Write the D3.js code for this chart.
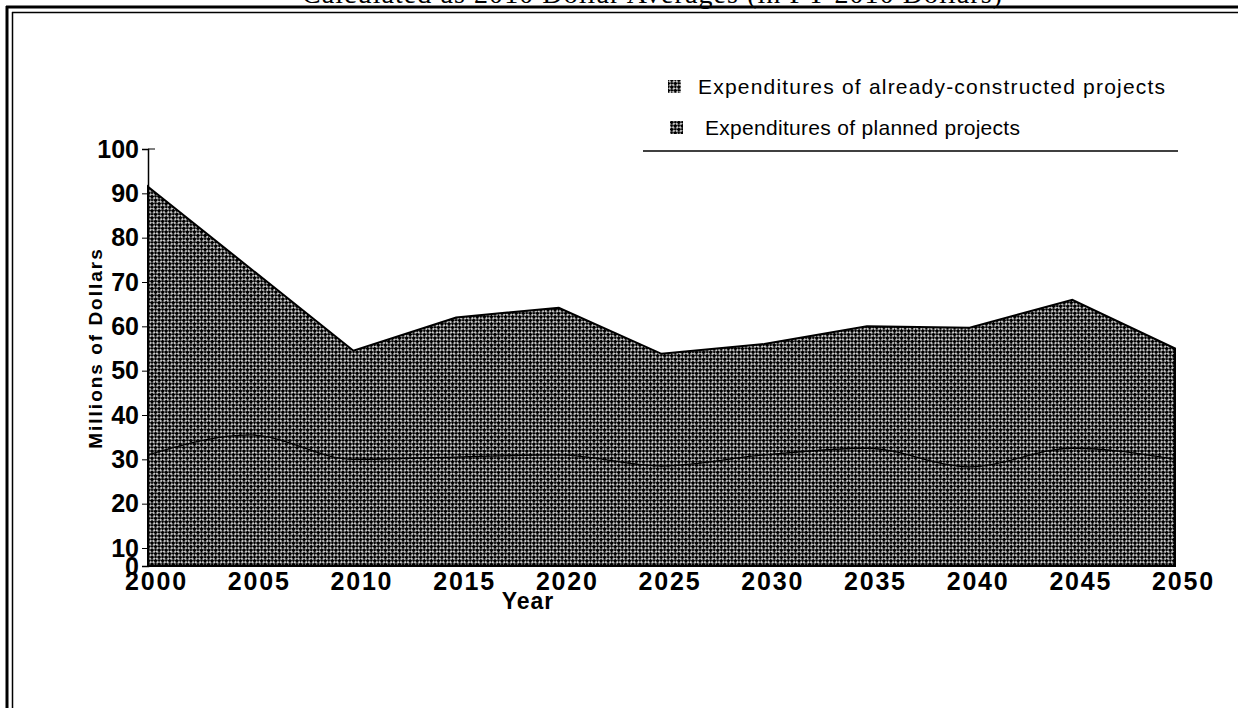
<!DOCTYPE html>
<html>
<head>
<meta charset="utf-8">
<script src="https://cdn.jsdelivr.net/npm/d3@7"></script>
<style>
  body { margin: 0; background: #fff; }
  svg { display: block; }
</style>
</head>
<body>
<div id="chart"></div>
<script>
// data
const years = [2000, 2005, 2010, 2015, 2020, 2025, 2030, 2035, 2040, 2045, 2050];
const constructed = [31, 35.5, 30, 30.5, 31, 28.5, 31, 32.5, 28.3, 32.5, 30];
const total = [91.5, 73, 54.5, 62, 64.2, 53.8, 56, 60, 59.7, 66, 55];
const yTicks = [0, 10, 20, 30, 40, 50, 60, 70, 80, 90, 100];
const legendLabels = ["Expenditures of already-constructed projects", "Expenditures of planned projects"];

const W = 1238, H = 708;
const sans = "Liberation Sans, Arial, sans-serif";
const svg = d3.select("#chart").append("svg").attr("width", W).attr("height", H);

// dark checker fill used by both areas
const defs = svg.append("defs");
const pat = defs.append("pattern").attr("id", "dots")
    .attr("width", 5).attr("height", 5)
    .attr("patternUnits", "userSpaceOnUse")
    .attr("patternTransform", "rotate(45)");
pat.append("rect").attr("width", 5).attr("height", 5).attr("fill", "#d0d0d0");
pat.append("rect").attr("width", 3.1).attr("height", 3.1).attr("fill", "#000");
pat.append("rect").attr("x", 2.5).attr("y", 2.5).attr("width", 3.1).attr("height", 3.1).attr("fill", "#000");

// page frame (double rule)
svg.append("line").attr("x1", 6).attr("x2", W).attr("y1", 7).attr("y2", 7).attr("stroke", "#000").attr("stroke-width", 3);
svg.append("line").attr("x1", 12).attr("x2", W).attr("y1", 12.5).attr("y2", 12.5).attr("stroke", "#000").attr("stroke-width", 1.5);
svg.append("line").attr("x1", 7).attr("x2", 7).attr("y1", 6).attr("y2", H).attr("stroke", "#000").attr("stroke-width", 3);
svg.append("line").attr("x1", 12.5).attr("x2", 12.5).attr("y1", 12).attr("y2", H).attr("stroke", "#000").attr("stroke-width", 1.5);

// title, mostly cut off at top of scan
svg.append("text").attr("x", 652).attr("y", 3)
    .attr("text-anchor", "middle")
    .attr("font-family", "Liberation Serif, Times New Roman, serif")
    .attr("font-size", 28)
    .attr("textLength", 700)
    .text("Calculated as 2010 Dollar Averages (in FY 2010 Dollars)");

const x = d3.scaleLinear().domain([2000, 2050]).range([148, 1175]);
// the scanned axis squeezes 0-10, so use a two-piece scale
const y = d3.scaleLinear().domain([0, 10, 100]).range([566, 548, 149]);

svg.append("path")
    .datum(total)
    .attr("d", d3.area().x((d, i) => x(years[i])).y0(y(0)).y1(d => y(d)))
    .attr("fill", "url(#dots)")
    .attr("stroke", "#000").attr("stroke-width", 2);

svg.append("path")
    .datum(constructed)
    .attr("d", d3.line().x((d, i) => x(years[i])).y(d => y(d)).curve(d3.curveMonotoneX))
    .attr("fill", "none")
    .attr("stroke", "#000").attr("stroke-width", 1.3);

// y axis
const yAxis = svg.append("g").attr("transform", `translate(${x(2000)},0)`)
    .call(d3.axisLeft(y).tickValues(yTicks).tickSize(6).tickPadding(3));
yAxis.select(".domain").attr("stroke-width", 1.5);
yAxis.selectAll("text")
    .attr("font-family", sans)
    .attr("font-weight", "bold").attr("font-size", 25).attr("fill", "#000");
yAxis.append("line").attr("x1", 0).attr("x2", 7).attr("y1", y(100)).attr("y2", y(100)).attr("stroke", "#000");

// x axis labels only (no visible base line); scan prints them a bit right of the data
const xAxis = svg.append("g").attr("transform", `translate(8,${y(0)})`)
    .call(d3.axisBottom(x).tickValues(years).tickFormat(d3.format("d")).tickSize(0).tickPadding(6));
xAxis.select(".domain").remove();
xAxis.selectAll("text")
    .attr("font-family", sans)
    .attr("font-weight", "bold").attr("font-size", 25)
    .attr("letter-spacing", 1.8).attr("fill", "#000");

svg.append("text").attr("x", 528).attr("y", 609)
    .attr("text-anchor", "middle")
    .attr("font-family", sans)
    .attr("font-weight", "bold").attr("font-size", 23)
    .attr("letter-spacing", 1)
    .text("Year");

svg.append("text")
    .attr("transform", "translate(102,348) rotate(-90)")
    .attr("text-anchor", "middle")
    .attr("font-family", sans)
    .attr("font-weight", "bold").attr("font-size", 19)
    .attr("letter-spacing", 2)
    .text("Millions of Dollars");

// legend
const legendLen = [467, 315];
const legend = svg.append("g");
legendLabels.forEach((lab, i) => {
  const ly = 87 + i * 41;
  legend.append("rect").attr("x", 668 + i * 2).attr("y", ly - 7).attr("width", 13).attr("height", 13)
      .attr("fill", "url(#dots)");
  legend.append("text").attr("x", 698 + i * 7).attr("y", ly + 7)
      .attr("font-family", sans)
      .attr("font-size", 21)
      .attr("textLength", legendLen[i])
      .text(lab);
});
legend.append("line").attr("x1", 643).attr("x2", 1178).attr("y1", 151).attr("y2", 151)
    .attr("stroke", "#000").attr("stroke-width", 1.5);
</script>
</body>
</html>
